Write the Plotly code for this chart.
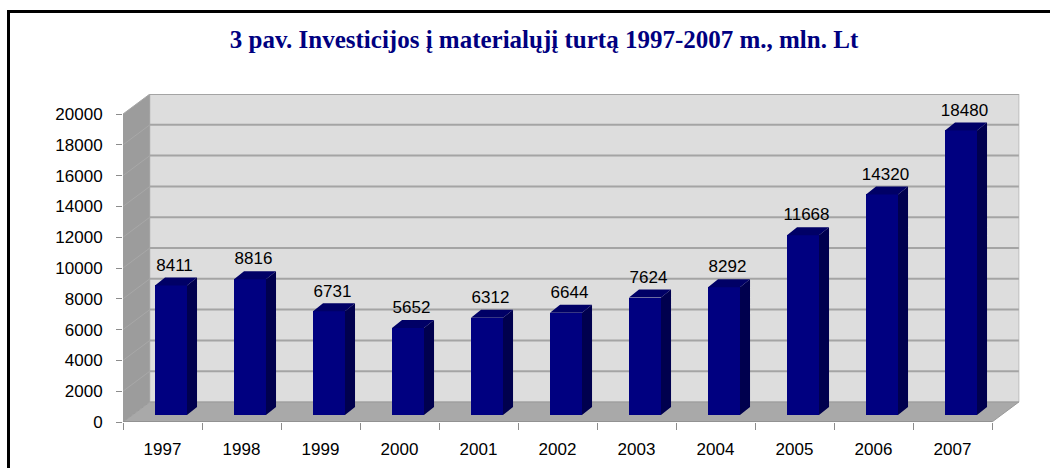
import plotly.graph_objects as go

years = ["1997", "1998", "1999", "2000", "2001", "2002", "2003", "2004", "2005", "2006", "2007"]
values = [8411, 8816, 6731, 5652, 6312, 6644, 7624, 8292, 11668, 14320, 18480]
y_ticks = list(range(0, 20001, 2000))
title_text = "3 pav. Investicijos į materialųjį turtą 1997-2007 m., mln. Lt"

# geometry of the pseudo-3D frame (axis units)
n = len(years)
WALL_DX = 0.34      # depth offset in x (category units)
WALL_DY = 1300      # depth offset in y (value units)
BAR_L, BAR_R = 0.405, 0.81   # front face of bar within a category slot
BAR_BASE = 455      # bars sit a little behind the front edge
BAR_DX, BAR_DY = 0.127, 520  # bar depth
LABEL_GAP = 720

XMAX = n + 0.367
YMAX = 20000 + WALL_DY

fig = go.Figure()

# bar side faces and top faces, built from the values
side_x, side_y, top_x, top_y = [], [], [], []
for i, v in enumerate(values):
    xl, xr = i + BAR_L, i + BAR_R
    b, t = BAR_BASE, BAR_BASE + v
    side_x += [xr, xr + BAR_DX, xr + BAR_DX, xr, xr, None]
    side_y += [b, b + BAR_DY, t + BAR_DY, t, b, None]
    top_x += [xl, xr, xr + BAR_DX, xl + BAR_DX, xl, None]
    top_y += [t, t, t + BAR_DY, t + BAR_DY, t, None]

fig.add_trace(go.Bar(
    x=[i + (BAR_L + BAR_R) / 2 for i in range(n)],
    y=values, base=BAR_BASE, width=BAR_R - BAR_L,
    marker=dict(color="#000080", line=dict(width=0)),
    hoverinfo="skip", showlegend=False,
))
fig.add_trace(go.Scatter(x=side_x, y=side_y, fill="toself", mode="lines",
                         fillcolor="#00004E", line=dict(width=0, color="#00004E"),
                         hoverinfo="skip", showlegend=False))
fig.add_trace(go.Scatter(x=top_x, y=top_y, fill="toself", mode="lines",
                         fillcolor="#000066", line=dict(width=0, color="#000066"),
                         hoverinfo="skip", showlegend=False))
fig.add_trace(go.Scatter(
    x=[i + 0.652 for i in range(n)],
    y=[v + BAR_BASE + BAR_DY + LABEL_GAP for v in values],
    mode="text", text=[str(v) for v in values],
    textfont=dict(family="Liberation Sans, Arial", size=17, color="#000000"),
    textposition="middle center", hoverinfo="skip", showlegend=False, cliponaxis=False,
))

shapes = []
# back wall
shapes.append(dict(type="rect", xref="x", yref="y", x0=WALL_DX, x1=n + WALL_DX,
                   y0=WALL_DY, y1=20000 + WALL_DY, fillcolor="#DDDDDD",
                   line=dict(color="#BDBDBD", width=1), layer="below"))
# side wall
shapes.append(dict(type="path", xref="x", yref="y",
                   path=f"M0,0 L{WALL_DX},{WALL_DY} L{WALL_DX},{20000 + WALL_DY} L0,20000 Z",
                   fillcolor="#9C9C9C", line=dict(width=0), layer="below"))
# floor
shapes.append(dict(type="path", xref="x", yref="y",
                   path=f"M0,0 L{n},0 L{n + WALL_DX},{WALL_DY} L{WALL_DX},{WALL_DY} Z",
                   fillcolor="#A9A9A9", line=dict(color="#9A9A9A", width=1), layer="below"))
# gridlines on back wall + side wall
for g in y_ticks[1:]:
    shapes.append(dict(type="line", xref="x", yref="y", x0=WALL_DX, x1=n + WALL_DX,
                       y0=g + WALL_DY, y1=g + WALL_DY,
                       line=dict(color="#A4A4A4", width=2), layer="below"))
    shapes.append(dict(type="line", xref="x", yref="y", x0=0, x1=WALL_DX,
                       y0=g, y1=g + WALL_DY,
                       line=dict(color="#A8A8A8", width=1), layer="below"))
# front x axis line
shapes.append(dict(type="line", xref="x", yref="y", x0=0, x1=n, y0=0, y1=0,
                   line=dict(color="#8C8C8C", width=1.5)))
# outer frame
pw, ph = 1050 - 123 - 29, 468 - 94 - 46
def px(xp): return (xp - 123) / pw
def py(yp): return (468 - 46 - yp) / ph
shapes.append(dict(type="rect", xref="paper", yref="paper",
                   x0=px(8.5), x1=px(1065), y0=py(480), y1=py(11.5),
                   line=dict(color="#000000", width=3), fillcolor="rgba(0,0,0,0)"))

fig.update_layout(
    width=1050, height=468,
    margin=dict(l=123, r=29, t=94, b=46, pad=0, autoexpand=False),
    paper_bgcolor="#FFFFFF", plot_bgcolor="#FFFFFF",
    bargap=0, shapes=shapes,
    font=dict(family="Liberation Sans, Arial", size=17, color="#000000"),
    title=dict(text="<b>" + title_text + "</b>", x=544 / 1050, xanchor="center",
               y=1 - 39 / 468, yanchor="middle", xref="container", yref="container",
               font=dict(family="Liberation Serif, Times New Roman", size=25, color="#000080")),
    xaxis=dict(range=[0, XMAX], tickvals=[i + 0.5 for i in range(n)], ticktext=years,
               ticks="", showgrid=False, zeroline=False, showline=False, automargin=False,
               ticklabelstandoff=15, fixedrange=True,
               minor=dict(tickvals=list(range(n + 1)), ticks="outside", ticklen=7,
                          tickcolor="#8C8C8C", showgrid=False)),
    yaxis=dict(range=[0, YMAX], tickvals=y_ticks, ticktext=[str(t) for t in y_ticks],
               ticks="outside", ticklen=6, tickcolor="#8C8C8C", showgrid=False, automargin=False,
               zeroline=False, showline=False, ticklabelstandoff=10, fixedrange=True),
)

fig.write_html("out.html", config={"displayModeBar": False},
               post_script="document.body.style.margin='0px';document.body.style.overflow='hidden';")
